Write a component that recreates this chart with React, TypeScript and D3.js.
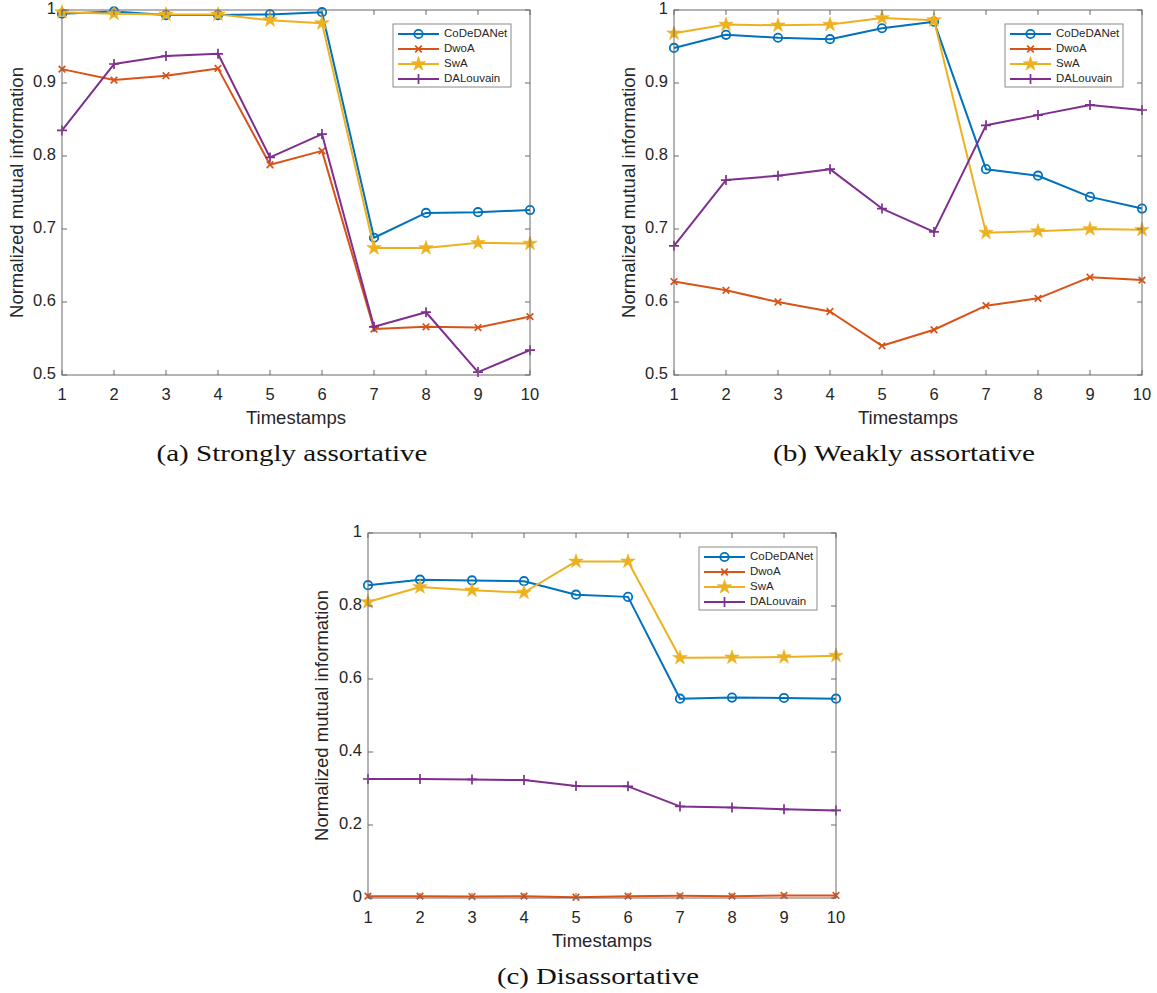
import React from "react";
import * as d3 from "d3";

const timestamps = [1, 2, 3, 4, 5, 6, 7, 8, 9, 10];
const seriesNames = ["CoDeDANet", "DwoA", "SwA", "DALouvain"];
const seriesColors = ["#0072BD", "#D95319", "#EDB120", "#7E2F8E"];
const seriesMarkers = ["circle", "x", "star", "plus"];

// (a) Strongly assortative
const strongCoDeDANet = [0.995, 0.998, 0.993, 0.993, 0.994, 0.997, 0.688, 0.722, 0.723, 0.726];
const strongDwoA = [0.919, 0.904, 0.910, 0.920, 0.788, 0.807, 0.563, 0.566, 0.565, 0.580];
const strongSwA = [0.997, 0.995, 0.994, 0.994, 0.986, 0.982, 0.674, 0.674, 0.681, 0.680];
const strongDALouvain = [0.835, 0.926, 0.937, 0.940, 0.798, 0.830, 0.566, 0.586, 0.504, 0.534];

// (b) Weakly assortative
const weakCoDeDANet = [0.948, 0.966, 0.962, 0.960, 0.975, 0.984, 0.782, 0.773, 0.744, 0.728];
const weakDwoA = [0.628, 0.616, 0.600, 0.587, 0.540, 0.562, 0.595, 0.605, 0.634, 0.630];
const weakSwA = [0.968, 0.980, 0.979, 0.980, 0.989, 0.986, 0.695, 0.697, 0.700, 0.699];
const weakDALouvain = [0.677, 0.767, 0.773, 0.782, 0.728, 0.696, 0.842, 0.856, 0.870, 0.863];

// (c) Disassortative
const disCoDeDANet = [0.857, 0.872, 0.870, 0.868, 0.831, 0.825, 0.546, 0.549, 0.548, 0.546];
const disDwoA = [0.005, 0.005, 0.004, 0.005, 0.002, 0.005, 0.006, 0.005, 0.007, 0.007];
const disSwA = [0.811, 0.852, 0.843, 0.837, 0.922, 0.922, 0.658, 0.659, 0.660, 0.664];
const disDALouvain = [0.326, 0.326, 0.325, 0.323, 0.307, 0.306, 0.251, 0.248, 0.243, 0.240];

const yTicksHigh = [0.5, 0.6, 0.7, 0.8, 0.9, 1];
const yTickLabelsHigh = ["0.5", "0.6", "0.7", "0.8", "0.9", "1"];
const yTicksFull = [0, 0.2, 0.4, 0.6, 0.8, 1];
const yTickLabelsFull = ["0", "0.2", "0.4", "0.6", "0.8", "1"];

const xLabel = "Timestamps";
const yLabel = "Normalized mutual information";

const captions = ["(a) Strongly assortative", "(b) Weakly assortative", "(c) Disassortative"];

const SANS = "'Liberation Sans', Arial, Helvetica, sans-serif";
const SERIF = "'Liberation Serif', 'DejaVu Serif', serif";
const AXIS_COLOR = "#6a6a6a";
const TEXT_COLOR = "#262626";

type PanelProps = {
  left: number;
  right: number;
  top: number;
  bottom: number;
  yDomain: [number, number];
  yTicks: number[];
  yTickLabels: string[];
  series: number[][];
  caption: string;
  captionWidth: number;
  yLabelX: number;
};

function Marker({ type, x, y, color }: { type: string; x: number; y: number; color: string }) {
  if (type === "circle") {
    return <circle cx={x} cy={y} r={4.2} fill="none" stroke={color} strokeWidth={1.8} />;
  }
  if (type === "x") {
    const s = 3.3;
    return (
      <path
        d={`M${x - s},${y - s}L${x + s},${y + s}M${x - s},${y + s}L${x + s},${y - s}`}
        stroke={color}
        strokeWidth={1.7}
        fill="none"
      />
    );
  }
  if (type === "star") {
    const r = 7.6;
    const size = (r * r) / 0.8908130915292852;
    const p = d3.symbol().type(d3.symbolStar).size(size)() as string;
    return <path d={p} transform={`translate(${x},${y})`} fill={color} stroke={color} strokeWidth={0.6} />;
  }
  const s = 5;
  return (
    <path
      d={`M${x - s},${y}L${x + s},${y}M${x},${y - s}L${x},${y + s}`}
      stroke={color}
      strokeWidth={1.7}
      fill="none"
    />
  );
}

function Panel(p: PanelProps) {
  const x = d3.scaleLinear().domain([1, 10]).range([p.left, p.right]);
  const y = d3.scaleLinear().domain(p.yDomain).range([p.bottom, p.top]);
  const tl = 5;
  const line = d3
    .line<number>()
    .x((_, i) => x(timestamps[i]))
    .y((d) => y(d));

  const legLeft = p.right - 19 - 118;
  const legTop = p.top + 14;
  const legW = 118;
  const legH = 63;

  return (
    <g>
      {p.series.map((vals, si) => (
        <g key={si}>
          <path d={line(vals) as string} fill="none" stroke={seriesColors[si]} strokeWidth={2} strokeLinejoin="round" />
          {vals.map((v, i) => (
            <Marker key={i} type={seriesMarkers[si]} x={x(timestamps[i])} y={y(v)} color={seriesColors[si]} />
          ))}
        </g>
      ))}
      <rect
        x={p.left}
        y={p.top}
        width={p.right - p.left}
        height={p.bottom - p.top}
        fill="none"
        stroke={AXIS_COLOR}
        strokeWidth={1}
      />
      {timestamps.map((t) => (
        <g key={t}>
          <line x1={x(t)} x2={x(t)} y1={p.bottom} y2={p.bottom - tl} stroke={AXIS_COLOR} />
          <line x1={x(t)} x2={x(t)} y1={p.top} y2={p.top + tl} stroke={AXIS_COLOR} />
          <text
            x={x(t)}
            y={p.bottom + 21}
            textAnchor="middle"
            fontFamily={SANS}
            fontSize={16.5}
            fill={TEXT_COLOR}
            dominantBaseline="middle"
          >
            {t}
          </text>
        </g>
      ))}
      {p.yTicks.map((t, i) => (
        <g key={t}>
          <line x1={p.left} x2={p.left + tl} y1={y(t)} y2={y(t)} stroke={AXIS_COLOR} />
          <line x1={p.right} x2={p.right - tl} y1={y(t)} y2={y(t)} stroke={AXIS_COLOR} />
          <text
            x={p.left - 6}
            y={y(t)}
            textAnchor="end"
            fontFamily={SANS}
            fontSize={16.5}
            fill={TEXT_COLOR}
            dominantBaseline="middle"
          >
            {p.yTickLabels[i]}
          </text>
        </g>
      ))}
      <text
        x={(p.left + p.right) / 2}
        y={p.bottom + 44}
        textAnchor="middle"
        fontFamily={SANS}
        fontSize={18.5}
        fill={TEXT_COLOR}
        dominantBaseline="middle"
      >
        {xLabel}
      </text>
      <text
        transform={`translate(${p.yLabelX},${(p.top + p.bottom) / 2}) rotate(-90)`}
        textAnchor="middle"
        fontFamily={SANS}
        fontSize={18.5}
        fill={TEXT_COLOR}
        dominantBaseline="middle"
      >
        {yLabel}
      </text>
      <text
        x={(p.left + p.right) / 2 - 4}
        y={p.bottom + 81}
        textAnchor="middle"
        fontFamily={SERIF}
        fontSize={23}
        fill="#111"
        dominantBaseline="middle"
        textLength={p.captionWidth}
        lengthAdjust="spacingAndGlyphs"
      >
        {p.caption}
      </text>
      <rect x={legLeft} y={legTop} width={legW} height={legH} fill="#fff" stroke="#8a8a8a" strokeWidth={1} />
      {seriesNames.map((n, i) => {
        const ly = legTop + 10 + i * 15;
        return (
          <g key={n}>
            <line x1={legLeft + 5} x2={legLeft + 46} y1={ly} y2={ly} stroke={seriesColors[i]} strokeWidth={2} />
            <Marker type={seriesMarkers[i]} x={legLeft + 25.5} y={ly} color={seriesColors[i]} />
            <text
              x={legLeft + 51}
              y={ly}
              fontFamily={SANS}
              fontSize={11.5}
              fill={TEXT_COLOR}
              dominantBaseline="middle"
            >
              {n}
            </text>
          </g>
        );
      })}
    </g>
  );
}

export default function App() {
  return (
    <svg
      width={1157}
      height={993}
      style={{ position: "absolute", left: 0, top: 0, background: "#fff" }}
    >
      <rect x={0} y={0} width={1157} height={993} fill="#fff" />
      <Panel
        left={62}
        right={530}
        top={10}
        bottom={375}
        yDomain={[0.5, 1]}
        yTicks={yTicksHigh}
        yTickLabels={yTickLabelsHigh}
        series={[strongCoDeDANet, strongDwoA, strongSwA, strongDALouvain]}
        caption={captions[0]}
        captionWidth={271}
        yLabelX={18}
      />
      <Panel
        left={674}
        right={1142}
        top={10}
        bottom={375}
        yDomain={[0.5, 1]}
        yTicks={yTicksHigh}
        yTickLabels={yTickLabelsHigh}
        series={[weakCoDeDANet, weakDwoA, weakSwA, weakDALouvain]}
        caption={captions[1]}
        captionWidth={262}
        yLabelX={630}
      />
      <Panel
        left={368}
        right={836}
        top={533}
        bottom={898}
        yDomain={[0, 1]}
        yTicks={yTicksFull}
        yTickLabels={yTickLabelsFull}
        series={[disCoDeDANet, disDwoA, disSwA, disDALouvain]}
        caption={captions[2]}
        captionWidth={202}
        yLabelX={323}
      />
    </svg>
  );
}
